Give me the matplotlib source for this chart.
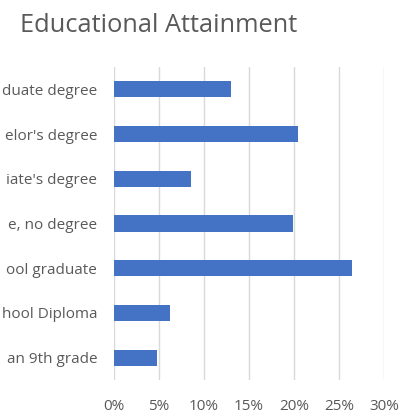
import matplotlib.pyplot as plt
import numpy as np

# labels as visible in the (cropped) reference, bottom to top
categories = ["an 9th grade", "hool Diploma", "ool graduate", "e, no degree",
              "iate's degree", "elor's degree", "duate degree"]
shares = [4.8, 6.2, 26.4, 19.9, 8.6, 20.4, 13.0]
xticks = [0, 5, 10, 15, 20, 25, 30]

plt.rcParams['font.family'] = ['Open Sans', 'DejaVu Sans']
grey = '#595959'

fig = plt.figure(figsize=(4.02, 4.17), dpi=100)
ax = fig.add_axes([114 / 402, 37 / 417, 270 / 402, 313 / 417])

y = np.arange(len(categories))
ax.barh(y, shares, height=0.36, color='#4472C4', zorder=3)

ax.set_xlim(0, 30)
ax.set_ylim(-0.5, len(categories) - 0.5)
ax.set_xticks(xticks)
ax.set_xticklabels([f'{t}%' for t in xticks])
ax.set_yticks(y)
ax.set_yticklabels(categories)
ax.tick_params(axis='both', length=0, labelsize=11, colors=grey)
ax.tick_params(axis='x', pad=14)
ax.tick_params(axis='y', pad=12)
ax.grid(axis='x', color='#D9D9D9', lw=1, zorder=0)
for s in ax.spines.values():
    s.set_visible(False)

fig.text(20 / 402, 1 - 25 / 417, 'Educational Attainment', fontsize=18.3,
         color=grey, va='center', ha='left')

fig.savefig('out.png', dpi=100)
